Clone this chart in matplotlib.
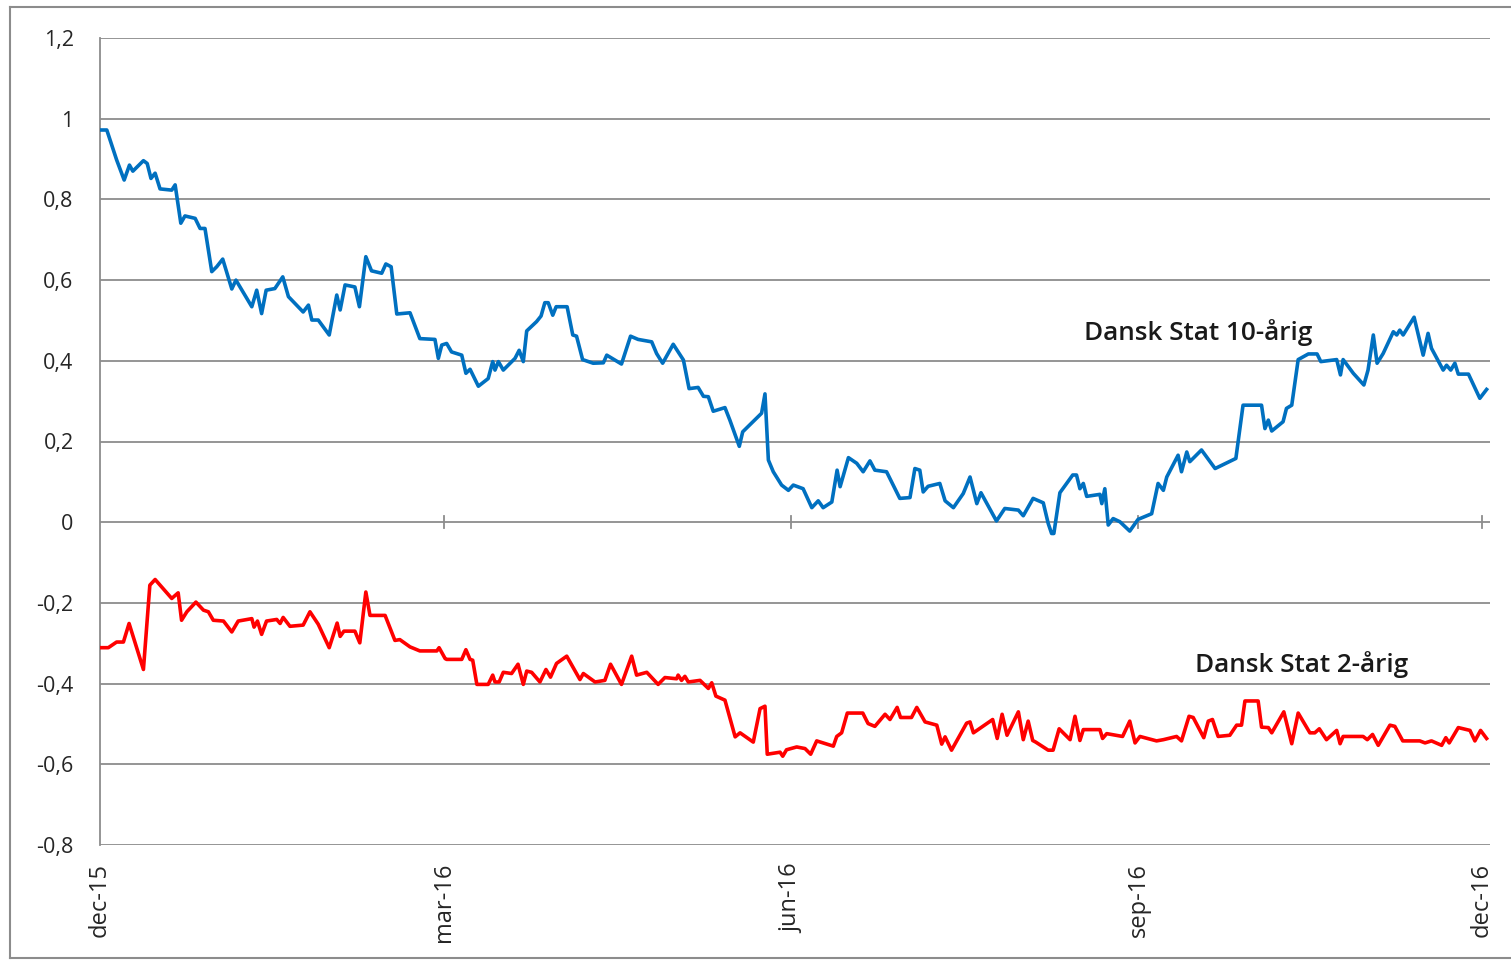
import matplotlib
matplotlib.use("Agg")
import matplotlib.pyplot as plt
from matplotlib.lines import Line2D

# ---- data (days since 1 Dec 2015, yield in %) ----
tick_days = [0, 91, 183, 275, 366]
tick_labels = ["dec-15", "mar-16", "jun-16", "sep-16", "dec-16"]

y_ticks = [-0.8, -0.6, -0.4, -0.2, 0, 0.2, 0.4, 0.6, 0.8, 1.0, 1.2]
y_tick_labels = ["-0,8", "-0,6", "-0,4", "-0,2", "0", "0,2", "0,4", "0,6", "0,8", "1", "1,2"]

ten_year_days = [
    0, 1.8, 4.4, 6.4, 7.8, 8.7, 11.5, 12.5, 13.5, 14.6, 15.9, 19.0, 19.9, 21.4, 22.5,
    25.2, 26.5, 27.8, 29.6, 30.9, 32.5, 34.9, 36.0, 40.2, 41.5, 42.8, 44.0, 46.3, 48.4,
    49.9, 53.8, 55.2, 56.1, 57.8, 60.7, 62.7, 63.6, 64.9, 67.5, 68.7, 70.4, 71.9, 74.6,
    75.7, 77.1, 78.6, 82.1, 84.7, 88.7, 89.6, 90.5, 91.8, 93.1, 95.8, 96.9, 98.0, 100.2,
    102.8, 104.0, 104.6, 105.5, 106.8, 109.9, 111.0, 112.1, 113.0, 115.6, 116.8, 117.8,
    118.7, 119.9, 120.8, 123.7, 125.2, 126.2, 127.8, 130.6, 133.3, 134.2, 138.1, 140.5,
    142.5, 146.1, 147.4, 149.0, 151.8, 154.5, 156.0, 158.4, 159.8, 161.1, 162.4, 165.5,
    166.8, 169.3, 170.2, 175.2, 176.1, 177.0, 178.3, 180.5, 182.3, 183.6, 186.2, 188.5,
    190.2, 191.5, 193.8, 195.2, 196.0, 198.2, 200.4, 202.1, 203.9, 205.2, 208.3, 211.8,
    214.5, 215.8, 217.1, 218.0, 219.3, 222.4, 223.8, 226.0, 228.6, 230.4, 232.2, 233.3,
    237.4, 239.6, 243.2, 244.5, 247.1, 249.8, 251.1, 252.0, 252.6, 254.2, 257.6, 258.6,
    259.5, 260.4, 261.3, 264.8, 265.3, 266.1, 267.0, 268.3, 270.1, 272.7, 274.9, 278.5,
    280.2, 281.6, 282.5, 285.5, 286.4, 287.8, 288.6, 291.7, 295.3, 300.1, 300.8, 302.7,
    307.6, 308.5, 309.4, 310.3, 313.3, 314.2, 315.6, 317.3, 320.0, 322.3, 323.3, 327.5,
    328.5, 329.2, 331.9, 334.7, 335.8, 337.2, 338.2, 339.8, 342.5, 343.4, 344.2, 345.1,
    348.0, 350.4, 351.7, 352.6, 355.7, 356.6, 357.7, 358.8, 359.7, 362.4, 365.4, 367.2,
]
ten_year = [
    0.972, 0.972, 0.898, 0.848, 0.885, 0.870, 0.896, 0.889, 0.852, 0.865, 0.826, 0.823, 0.836, 0.741, 0.759,
    0.753, 0.728, 0.728, 0.621, 0.633, 0.652, 0.578, 0.600, 0.534, 0.575, 0.517, 0.575, 0.579, 0.608,
    0.559, 0.521, 0.538, 0.501, 0.501, 0.464, 0.563, 0.526, 0.588, 0.583, 0.534, 0.658, 0.623, 0.617,
    0.640, 0.633, 0.516, 0.519, 0.455, 0.453, 0.406, 0.439, 0.443, 0.422, 0.414, 0.369, 0.379, 0.337,
    0.356, 0.398, 0.377, 0.398, 0.377, 0.406, 0.426, 0.398, 0.474, 0.497, 0.511, 0.544,
    0.544, 0.513, 0.534, 0.534, 0.464, 0.461, 0.403, 0.394, 0.395, 0.414, 0.392, 0.461,
    0.453, 0.447, 0.418, 0.394, 0.441, 0.402, 0.331, 0.334, 0.312, 0.311, 0.275, 0.284,
    0.253, 0.188, 0.224, 0.270, 0.318, 0.154, 0.125, 0.092, 0.079, 0.092, 0.083, 0.036,
    0.053, 0.036, 0.050, 0.129, 0.088, 0.160, 0.146, 0.125, 0.152, 0.129, 0.125, 0.059,
    0.061, 0.133, 0.129, 0.075, 0.089, 0.096, 0.053, 0.036, 0.071, 0.112, 0.046, 0.073,
    0.003, 0.034, 0.030, 0.016, 0.059, 0.048, -0.003, -0.028, -0.028, 0.073, 0.117, 0.117,
    0.083, 0.096, 0.064, 0.069, 0.046, 0.083, -0.007, 0.009, 0.001, -0.022, 0.007, 0.021,
    0.096, 0.079, 0.112, 0.166, 0.125, 0.174, 0.150, 0.179, 0.133, 0.155, 0.158, 0.290,
    0.290, 0.232, 0.253, 0.226, 0.249, 0.282, 0.290, 0.403, 0.417, 0.417, 0.398, 0.403,
    0.365, 0.403, 0.369, 0.340, 0.377, 0.464, 0.394, 0.418, 0.472, 0.464, 0.476, 0.464,
    0.508, 0.414, 0.468, 0.431, 0.377, 0.389, 0.377, 0.394, 0.367, 0.367, 0.307, 0.329,
]

two_year_days = [
    0, 2.2, 4.4, 6.2, 7.7, 11.5, 13.2, 14.6, 19.0, 20.7, 21.6, 23.0, 25.4, 27.4, 28.7,
    30.0, 32.7, 34.9, 36.6, 40.2, 40.8, 41.7, 42.8, 44.1, 46.8, 47.7, 48.5, 50.3, 53.8,
    55.6, 57.8, 60.7, 62.8, 63.6, 64.6, 67.5, 68.8, 70.4, 71.5, 75.5, 78.1, 79.4, 82.1,
    84.7, 89.2, 89.8, 91.4, 91.8, 95.8, 96.9, 98.0, 98.7, 99.8, 102.8, 104.0, 104.6,
    105.7, 106.8, 109.0, 110.7, 112.1, 113.0, 114.3, 116.5, 118.1, 119.3, 120.9, 123.6,
    127.1, 128.0, 131.1, 133.7, 135.2, 138.1, 140.8, 142.1, 144.8, 147.8, 149.6, 152.7,
    153.1, 154.0, 154.9, 155.8, 158.9, 161.1, 162.0, 163.1, 165.5, 168.2, 169.5, 173.0,
    174.8, 176.1, 176.7, 180.1, 180.8, 181.8, 184.5, 186.7, 188.2, 189.8, 194.2, 195.1,
    196.4, 197.9, 202.0, 203.4, 205.2, 207.9, 209.2, 211.1, 212.0, 214.9, 216.3, 218.5,
    221.6, 222.9, 223.8, 225.5, 229.5, 230.4, 231.3, 236.4, 237.6, 238.9, 240.2, 243.2,
    244.5, 245.8, 247.0, 247.8, 251.1, 252.4, 254.0, 256.9, 258.2, 259.5, 260.4, 264.8,
    265.5, 266.6, 270.8, 272.7, 274.1, 275.4, 279.8, 281.6, 285.1, 286.4, 288.4, 289.5,
    292.3, 293.5, 294.6, 296.1, 299.2, 301.0, 302.3, 303.2, 306.7, 307.6, 309.4, 310.3,
    313.5, 315.6, 317.3, 320.4, 321.7, 322.9, 324.8, 327.5, 328.4, 329.2, 334.5, 335.6,
    337.0, 338.5, 341.6, 342.9, 345.0, 349.5, 350.9, 352.6, 355.3, 356.4, 357.3, 359.7,
    362.8, 364.1, 365.6, 367.2,
]
two_year = [
    -0.311, -0.311, -0.297, -0.297, -0.251, -0.365, -0.156, -0.142, -0.189, -0.175, -0.243, -0.222, -0.198, -0.218, -0.222,
    -0.243, -0.245, -0.272, -0.245, -0.239, -0.260, -0.245, -0.278, -0.245, -0.241, -0.251, -0.236, -0.258, -0.255,
    -0.222, -0.253, -0.311, -0.250, -0.283, -0.270, -0.270, -0.299, -0.173, -0.231, -0.231, -0.293, -0.291, -0.309,
    -0.319, -0.319, -0.311, -0.338, -0.340, -0.340, -0.316, -0.340, -0.342, -0.402, -0.402, -0.379, -0.396,
    -0.396, -0.372, -0.375, -0.352, -0.402, -0.369, -0.372, -0.396, -0.365, -0.384, -0.350, -0.332,
    -0.390, -0.375, -0.396, -0.392, -0.352, -0.402, -0.332, -0.379, -0.372, -0.402, -0.385, -0.388,
    -0.379, -0.392, -0.382, -0.396, -0.392, -0.412, -0.398, -0.431, -0.441, -0.532, -0.522, -0.545,
    -0.462, -0.456, -0.575, -0.570, -0.580, -0.564, -0.557, -0.561, -0.575, -0.542, -0.555, -0.531,
    -0.522, -0.473, -0.473, -0.499, -0.506, -0.476, -0.489, -0.459, -0.484, -0.484, -0.459, -0.495,
    -0.503, -0.550, -0.532, -0.565, -0.498, -0.495, -0.522, -0.489, -0.536, -0.476, -0.528, -0.470,
    -0.539, -0.493, -0.541, -0.545, -0.565, -0.565, -0.512, -0.539, -0.481, -0.541, -0.514, -0.514,
    -0.536, -0.524, -0.531, -0.493, -0.547, -0.531, -0.542, -0.539, -0.531, -0.542, -0.481, -0.484,
    -0.534, -0.493, -0.489, -0.531, -0.528, -0.503, -0.503, -0.443, -0.443, -0.508, -0.509, -0.522,
    -0.470, -0.549, -0.473, -0.522, -0.522, -0.512, -0.539, -0.516, -0.549, -0.531, -0.531, -0.539,
    -0.526, -0.553, -0.503, -0.506, -0.542, -0.542, -0.547, -0.542, -0.553, -0.534, -0.547, -0.509,
    -0.516, -0.542, -0.516, -0.536,
]

label_10 = "Dansk Stat 10-årig"
label_2 = "Dansk Stat 2-årig"

# ---- figure ----
W, H = 1511, 961
fig = plt.figure(figsize=(W / 100, H / 100), dpi=100)
fig.patch.set_facecolor("white")

# outer chart frame
frame_col = "#8c8c8c"
fig.add_artist(Line2D([10 / W, 10 / W], [1 - 958 / H, 1 - 7 / H], color=frame_col, lw=1.5,
                      transform=fig.transFigure))
fig.add_artist(Line2D([10 / W, 1.0], [1 - 7 / H, 1 - 7 / H], color=frame_col, lw=1.5,
                      transform=fig.transFigure))
fig.add_artist(Line2D([10 / W, 1.0], [1 - 958 / H, 1 - 958 / H], color=frame_col, lw=1.5,
                      transform=fig.transFigure))

ax = fig.add_axes([100 / W, 1 - 845 / H, 1390 / W, (845 - 38) / H])
ax.set_xlim(0, 368.1)
ax.set_ylim(-0.8, 1.2)

grid_col = "#8c8c8c"
for y in y_ticks:
    ax.axhline(y, color=grid_col, lw=1.3, zorder=1)

for s in ["top", "right", "bottom"]:
    ax.spines[s].set_visible(False)
ax.spines["left"].set_color(grid_col)
ax.spines["left"].set_linewidth(1.3)

# tick marks on the zero axis
for d in tick_days[1:]:
    ax.plot([d, d], [-0.015, 0.015], color=grid_col, lw=1.3, zorder=1)

ax.plot(ten_year_days, ten_year, color="#0070C0", lw=2.6, zorder=3, solid_joinstyle="round")
ax.plot(two_year_days, two_year, color="#FF0000", lw=2.6, zorder=3, solid_joinstyle="round")

ax.set_yticks(y_ticks)
ax.set_yticklabels(y_tick_labels, fontsize=15.5, color="#262626", fontfamily="Open Sans")
ax.tick_params(axis="y", length=0, pad=19)

ax.set_xticks(tick_days)
ax.set_xticklabels(tick_labels, rotation=90, fontsize=17, color="#262626", fontfamily="Open Sans")
ax.tick_params(axis="x", length=0, pad=13)

ax.text(290.8, 0.47, label_10, fontsize=18.8, fontweight="semibold", color="#1a1a1a",
        fontfamily="Open Sans", ha="center", va="center")
ax.text(318.3, -0.352, label_2, fontsize=18.8, fontweight="semibold", color="#1a1a1a",
        fontfamily="Open Sans", ha="center", va="center")

fig.savefig("out.png", dpi=100, facecolor="white")
